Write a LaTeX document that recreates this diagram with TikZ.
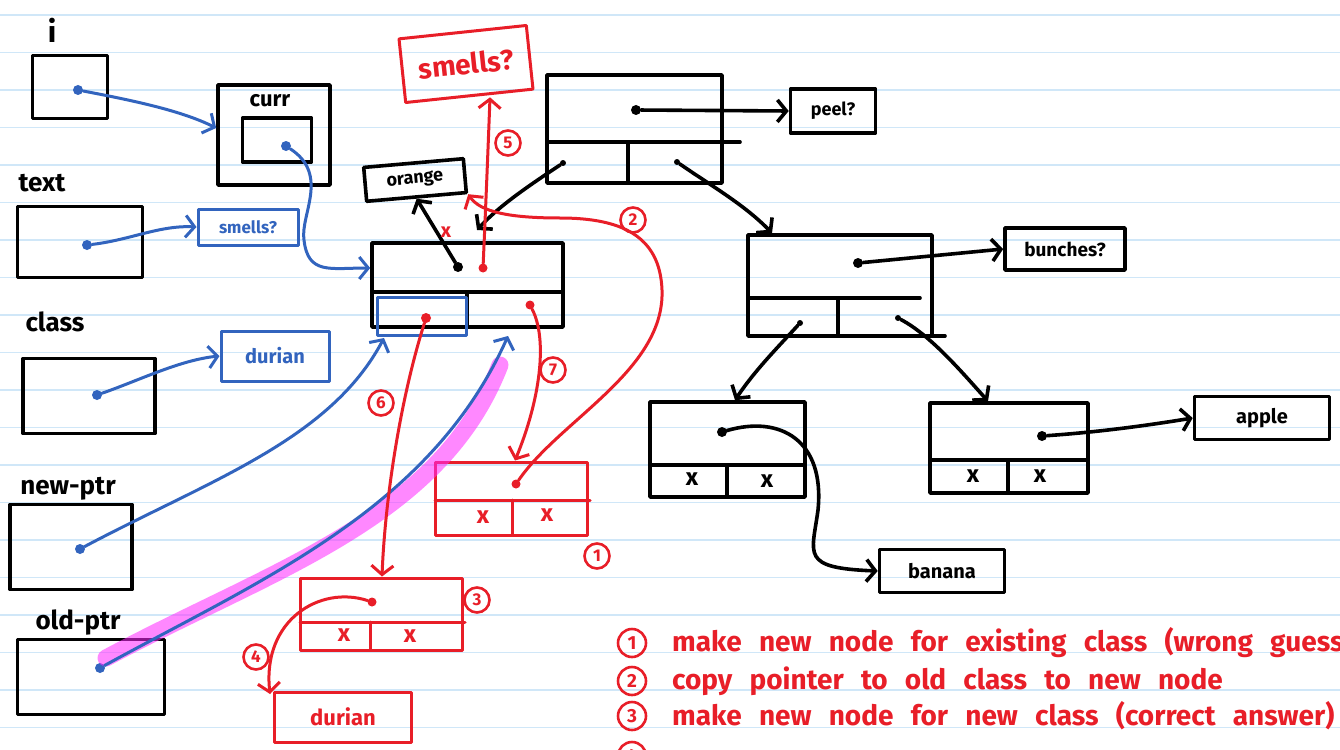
\documentclass[tikz,border=0pt]{standalone}
\usepackage{fontspec}
\setmainfont{Fira Sans}
\newfontfamily\handfont[WordSpace=2.6]{Fira Sans}
\usetikzlibrary{arrows.meta}
\newcommand{\setsz}[1]{\fontsize{#1}{#1}\selectfont}

\definecolor{inkblue}{RGB}{50,100,190}
\definecolor{inkred}{RGB}{232,30,40}
\definecolor{hilite}{RGB}{255,40,255}
\definecolor{rulecol}{RGB}{208,231,248}

\tikzset{
  pen/.style={line width=3.6pt,line cap=round,line join=round},
  thinpen/.style={line width=3pt,line cap=round,line join=round},
  tip/.style={-{Straight Barb[length=9pt,width=22pt]}},
  vbox/.style={draw=black,pen,inner sep=0pt},
  bbox/.style={draw=inkblue,thinpen,inner sep=0pt},
  rbox/.style={draw=inkred,thinpen,inner sep=0pt},
  lbl/.style={inner sep=0pt,font=\bfseries\setsz{26}},
  dotb/.style={circle,fill=black,inner sep=0pt,minimum size=10pt},
  dotu/.style={circle,fill=inkblue,inner sep=0pt,minimum size=10pt},
  dotr/.style={circle,fill=inkred,inner sep=0pt,minimum size=9pt},
  cnum/.style={circle,draw=inkred,line width=2.6pt,text=inkred,inner sep=0pt,
    minimum size=25pt,font=\bfseries\setsz{17}},
  xmark/.style={inner sep=0pt,font=\bfseries\setsz{24}},
  bconn/.style={draw=black,pen,tip},
  uconn/.style={draw=inkblue,thinpen,tip},
  rconn/.style={draw=inkred,thinpen,tip},
}

\begin{document}
\begin{tikzpicture}[x=1pt,y=-1pt]
\useasboundingbox (0,0) rectangle (1340,749);
\clip (0,0) rectangle (1340,749);
\fill[white] (0,0) rectangle (1340,749);
% ruled paper
\foreach \k in {0,...,19}
  \draw[rulecol,line width=1.6pt] (0,15+37.5*\k) -- (1340,15+37.5*\k);

% ---------- variables on the left ----------
\node[lbl,font=\bfseries\setsz{30}] (ilbl) at (52,30) {i};
\node[vbox,minimum width=75,minimum height=63] (ivar) at (70,87) {};
\node[dotu] (idot) at (78,90) {};

\node[vbox,minimum width=112,minimum height=100] (curr) at (274,135) {};
\node[lbl,font=\bfseries\setsz{22}] (currlbl) at (270,101) {curr};
\node[vbox,minimum width=69,minimum height=44] (currin) at (277,140) {};
\node[dotu] (currdot) at (286,146) {};

\node[lbl] (textlbl) at (42,183) {text};
\node[vbox,minimum width=125,minimum height=71] (textvar) at (80,242) {};
\node[dotu] (textdot) at (87,245) {};
\node[bbox,minimum width=100,minimum height=36,text=inkblue,font=\bfseries\setsz{17}] (smellsb) at (248,227) {smells?};

\node[lbl] (classlbl) at (55,322) {class};
\node[vbox,minimum width=132,minimum height=75] (classvar) at (89,396) {};
\node[dotu] (classdot) at (97,395) {};
\node[bbox,minimum width=108,minimum height=50,text=inkblue,font=\bfseries\setsz{20}] (durianb) at (275,356) {durian};

\node[lbl] (newlbl) at (68,489) {new-ptr};
\node[vbox,minimum width=122,minimum height=85] (newvar) at (71,547) {};
\node[dotu] (newdot) at (80,549) {};

\node[lbl] (oldlbl) at (78,623) {old-ptr};
\node[vbox,minimum width=147,minimum height=75] (oldvar) at (91,677) {};
\node[dotu] (olddot) at (100,668) {};

% ---------- root node ----------
\node[vbox,minimum width=191,minimum height=84] (root) at (467.5,285) {};
\draw[pen] (372,292) -- (563,292);
\draw[pen] (467,292) -- (467,327);
\node[bbox,minimum width=89,minimum height=38] (rootleft) at (422,316) {};
\node[dotb] (rootdot) at (458,267) {};
\node[dotr] (rootred) at (483,268) {};
\node[dotr] (rootright) at (530,305) {};
\node[circle,fill=inkred,inner sep=0pt,minimum size=10pt] (rootpink) at (426,318) {};

\node[vbox,minimum width=100,minimum height=34,rotate=5,font=\bfseries\setsz{18}] (orange) at (415,180) {orange};
\node[rbox,minimum width=128,minimum height=64,rotate=6,text=inkred,font=\bfseries\setsz{28}] (smellsr) at (466,64) {smells?};

% ---------- upper tree ----------
\node[vbox,minimum width=175,minimum height=108] (top) at (634.5,129) {};
\draw[pen] (547,142) -- (740,142);
\draw[pen] (628,142) -- (628,183);
\node[dotb] (topdot) at (636,110) {};
\node[dotb,minimum size=6pt] (topl) at (563,163) {};
\node[dotb,minimum size=6pt] (topr) at (677,162) {};
\node[vbox,minimum width=85,minimum height=44,font=\bfseries\setsz{18}] (peel) at (833,111) {peel?};

\node[vbox,minimum width=184,minimum height=101] (bnode) at (840,285.5) {};
\draw[pen] (748,298) -- (920,298);
\draw[pen] (838,298) -- (838,336);
\draw[pen] (932,336) -- (945,336);
\node[dotb] (bdot) at (858,263) {};
\node[dotb,minimum size=6pt] (bl) at (800,323) {};
\node[dotb,minimum size=6pt] (br) at (898,318) {};
\node[vbox,minimum width=120,minimum height=42,font=\bfseries\setsz{19}] (bunches) at (1065,249) {bunches?};

\node[vbox,minimum width=155,minimum height=95] (lchild) at (727.5,449.5) {};
\draw[pen] (650,465) -- (805,465);
\draw[pen] (727,465) -- (727,497);
\node[xmark] (lx1) at (692,479) {x};
\node[xmark] (lx2) at (767,481) {x};
\node[dotb] (ldot) at (722,432) {};
\node[vbox,minimum width=125,minimum height=43,font=\bfseries\setsz{20}] (banana) at (942,571) {banana};

\node[vbox,minimum width=158,minimum height=90] (rchild) at (1009,448) {};
\draw[pen] (930,460) -- (1088,460);
\draw[pen] (1008,460) -- (1008,493);
\node[xmark] (rx1) at (973,476) {x};
\node[xmark] (rx2) at (1040,476) {x};
\node[dotb] (rdot) at (1042,436) {};
\node[vbox,minimum width=135,minimum height=43,font=\bfseries\setsz{20}] (apple) at (1262,418) {apple};

% ---------- new red nodes ----------
\node[rbox,minimum width=152,minimum height=73] (n1) at (511,498.5) {};
\draw[draw=inkred,thinpen] (435,500) -- (590,500);
\draw[draw=inkred,thinpen] (512,500) -- (512,535);
\node[xmark,text=inkred] (n1x1) at (483,517) {x};
\node[xmark,text=inkred] (n1x2) at (547,515) {x};
\node[dotr] (n1dot) at (516,484) {};

\node[rbox,minimum width=162,minimum height=72] (n3) at (381,614) {};
\draw[draw=inkred,thinpen] (300,622) -- (465,622);
\draw[draw=inkred,thinpen] (370,622) -- (370,650);
\node[xmark,text=inkred] (n3x1) at (344,635) {x};
\node[xmark,text=inkred] (n3x2) at (410,636) {x};
\node[dotr] (n3dot) at (372,602) {};
\node[rbox,minimum width=137,minimum height=50,text=inkred,font=\bfseries\setsz{22}] (durianr) at (343,717) {durian};

% step numbers
\node[cnum] (c1) at (597,556) {1};
\node[cnum] (c2) at (633,220) {2};
\node[cnum] (c3) at (477,600) {3};
\node[cnum] (c4) at (256,657) {4};
\node[cnum] (c5) at (508,143) {5};
\node[cnum] (c6) at (381,403) {6};
\node[cnum] (c7) at (553,370) {7};

% ---------- highlighter ----------
\draw[hilite,opacity=0.55,line width=17pt,line cap=round]
  (106,658) .. controls (270,570) and (440,520) .. (500,365);

% ---------- blue pointers ----------
\draw[uconn] (idot) .. controls (130,100) and (180,110) .. (curr.west |- 0,128);
\draw[uconn] (currdot) .. controls (330,175) and (300,215) .. (304,240)
  .. controls (308,275) and (330,268) .. (root.west |- 0,268);
\draw[uconn] (textdot) .. controls (130,240) and (160,225) .. (smellsb.west);
\draw[uconn] (classdot) .. controls (140,380) and (180,360) .. (durianb.west);
\draw[uconn] (newdot) .. controls (210,480) and (330,440) .. (384,338);
\draw[uconn] (olddot) .. controls (260,580) and (430,510) .. (508,336);

% ---------- black pointers ----------
\draw[bconn] (rootdot) -- (orange.south);
\draw[bconn] (topdot) -- (peel.west);
\draw[bconn] (topl) .. controls (530,185) and (500,205) .. (477,230);
\draw[bconn] (topr) .. controls (710,185) and (745,205) .. (bnode.north -| 772,0);
\draw[bconn] (bdot) -- (bunches.west);
\draw[bconn] (bl) .. controls (780,345) and (755,370) .. (lchild.north -| 735,0);
\draw[bconn] (br) .. controls (930,335) and (960,370) .. (rchild.north -| 988,0);
\draw[bconn] (ldot) .. controls (780,415) and (825,440) .. (818,510)
  .. controls (812,555) and (800,568) .. (banana.west);
\draw[bconn] (rdot) .. controls (1100,432) and (1150,425) .. (apple.west);

% ---------- red pointers ----------
\node[xmark,text=inkred,font=\bfseries\setsz{20}] (cross) at (446,232) {x};
\draw[rconn] (rootred) .. controls (486,200) and (488,150) .. (smellsr.south -| 490,0);
\draw[rconn] (rootright) .. controls (548,340) and (540,400) .. (n1.north -| 515,0);
\draw[rconn] (rootpink) .. controls (400,400) and (385,500) .. (n3.north -| 382,0);
\draw[rconn] (n1dot) .. controls (560,420) and (665,370) .. (662,290)
  .. controls (660,235) and (620,218) .. (560,218)
  .. controls (510,218) and (480,212) .. (orange.south east);
\draw[rconn] (n3dot) .. controls (320,585) and (262,620) .. (270,694);

% ---------- legend ----------
\node[cnum,minimum size=28pt,font=\bfseries\setsz{19}] (l1) at (632,643) {1};
\node[cnum,minimum size=28pt,font=\bfseries\setsz{19}] (l2) at (632,681) {2};
\node[cnum,minimum size=28pt,font=\bfseries\setsz{19}] (l3) at (632,716) {3};
\node[cnum,minimum size=28pt,font=\bfseries\setsz{19}] (l4) at (632,756) {4};
\begin{scope}[every node/.style={anchor=west,inner sep=0pt,text=inkred,font=\handfont\bfseries\setsz{28}}]
\node (t1) at (672,643) {make new node for existing class (wrong guess)};
\node (t2) at (672,681) {copy pointer to old class to new node};
\node (t3) at (672,716) {make new node for new class (correct answer)};
\end{scope}
\end{tikzpicture}
\end{document}
